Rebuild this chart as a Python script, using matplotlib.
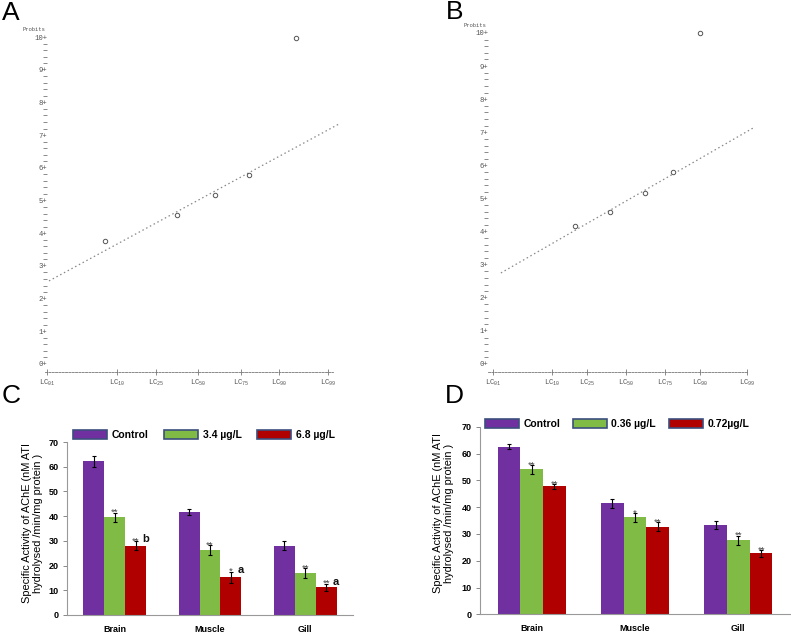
import numpy as np
import matplotlib
matplotlib.use('Agg')
import matplotlib.pyplot as plt
from matplotlib.patches import Patch

# ---------------- data ----------------
# Panels A / B : probit plots. x = relative log-dose position (0 = LC01, 100 = LC99)
lc_labels = ['01', '10', '25', '50', '75', '90', '99']
probit_ticks = list(range(0, 11))

a_lc_pos = [0, 24.9, 38.8, 53.7, 69.0, 82.6, 100]
a_fit_x = [0.7, 103.9]
a_fit_probit = [2.54, 7.34]
a_obs_x = [20.6, 46.3, 59.8, 71.9, 88.6]
a_obs_probit = [3.76, 4.56, 5.17, 5.78, 9.97]

b_lc_pos = [0, 23.2, 37.0, 52.4, 67.7, 81.5, 100]
b_fit_x = [3.1, 103.1]
b_fit_probit = [2.75, 7.16]
b_obs_x = [32.3, 46.1, 59.8, 70.9, 81.5]
b_obs_probit = [4.17, 4.59, 5.17, 5.80, 10.0]

# Panels C / D : AChE specific activity
tissues = ['Brain', 'Muscle', 'Gill']

c_legend = ['Control', '3.4 µg/L', '6.8 µg/L']
c_control = [62.2, 41.8, 28.1]
c_low = [39.6, 26.2, 16.9]
c_high = [28.0, 15.3, 11.2]
c_control_err = [2.3, 1.2, 1.8]
c_low_err = [1.8, 2.1, 2.0]
c_high_err = [1.9, 2.3, 1.5]
c_low_stars = ['**', '**', '**']
c_high_stars = ['**', '*', '**']
c_high_letters = ['b', 'a', 'a']

d_legend = ['Control', '0.36 µg/L', '0.72µg/L']
d_control = [62.5, 41.4, 33.4]
d_low = [54.1, 36.2, 27.6]
d_high = [47.7, 32.6, 22.7]
d_control_err = [0.9, 1.6, 1.4]
d_low_err = [1.6, 1.7, 1.8]
d_high_err = [0.9, 1.7, 1.2]
d_low_stars = ['**', '*', '**']
d_high_stars = ['**', '**', '**']
d_high_letters = ['', '', '']

ylabel_text = 'Specific Activity of AChE (nM ATI\nhydrolysed /min/mg protein )'

# ---------------- figure ----------------
W, H = 791, 633
fig = plt.figure(figsize=(W / 100, H / 100), dpi=100)
plt.rcParams['font.family'] = ['Liberation Sans', 'DejaVu Sans']


def px_axes(l, t, r, b):
    return fig.add_axes([l / W, 1 - b / H, (r - l) / W, (b - t) / H])


MONO = 'Liberation Mono'
GREY = '#555555'


def probit_panel(box, xlim, yaxis_x, spine_bounds, lc_pos, fit_x, fit_y, obs_x, obs_y,
                 probit_label_y):
    ax = px_axes(*box)
    ax.set_xlim(*xlim)
    ax.set_ylim(-0.5, 10.5)
    ax.patch.set_alpha(0)
    for s in ['top', 'right']:
        ax.spines[s].set_visible(False)
    ax.spines['left'].set_position(('data', yaxis_x))
    ax.spines['left'].set_linewidth(0)
    ax.set_yticks(probit_ticks)
    ax.set_yticklabels([f'{v}+' for v in probit_ticks], fontfamily=MONO,
                       fontsize=5.2, color=GREY)
    ax.set_yticks(np.arange(0, 10.01, 0.2), minor=True)
    ax.tick_params(axis='y', which='major', length=0, pad=-1.5)
    ax.tick_params(axis='y', which='minor', length=3, width=0.6, color='#777777',
                   direction='inout')
    ax.spines['bottom'].set_position(('data', -0.245))
    ax.spines['bottom'].set_linestyle((0, (2.5, 1.5)))
    ax.spines['bottom'].set_linewidth(0.6)
    ax.spines['bottom'].set_color('#777777')
    ax.spines['bottom'].set_bounds(*spine_bounds)
    ax.set_xticks(lc_pos)
    ax.set_xticklabels([f'LC$_{{\\mathregular{{{s}}}}}$' for s in lc_labels],
                       fontfamily=MONO, fontsize=5.2, color=GREY)
    ax.tick_params(axis='x', length=4, width=0.6, color='#777777', direction='inout', pad=2)
    ax.plot(fit_x, fit_y, color='#888888', lw=0.9, linestyle=(0, (1.2, 2.2)))
    ax.plot(obs_x, obs_y, linestyle='none', marker='o', ms=3.2, mfc='white',
            mec='#555555', mew=0.7)
    ax.text(yaxis_x, probit_label_y, 'Probits', ha='right', va='center', fontfamily=MONO,
            fontsize=4.0, color=GREY)
    return ax


probit_panel((35, 20.65, 350, 380.35), (-4.27, 107.83), -0.71, (-0.71, 101.8),
             a_lc_pos, a_fit_x, a_fit_probit, a_obs_x, a_obs_probit, 10.24)
probit_panel((478, 16.45, 770, 380.55), (-5.91, 109.06), -2.76, (-1.97, 100.4),
             b_lc_pos, b_fit_x, b_fit_probit, b_obs_x, b_obs_probit, 10.24)

COLORS = ['#7030a0', '#7fbb45', '#b00000']
EDGE = '#3c4f7e'


def bar_panel(box, legend_names, series, errs, low_stars, high_stars, high_letters,
              legend_xy, colspacing, ylab_xy):
    ax = px_axes(*box)
    x = np.arange(len(tissues))
    w = 0.22
    for i, (vals, err) in enumerate(zip(series, errs)):
        ax.bar(x + (i - 1) * w, vals, w, color=COLORS[i], yerr=err,
               error_kw=dict(ecolor='black', elinewidth=0.8, capsize=1.6, capthick=0.8))
    for k in range(len(tissues)):
        for i, stars in [(1, low_stars[k]), (2, high_stars[k])]:
            top = series[i][k] + errs[i][k]
            ax.text(x[k] + (i - 1) * w, top - 1.0, stars, ha='center', va='baseline',
                    fontsize=6.8, color='#444444')
        if high_letters[k]:
            top = series[2][k] + errs[2][k]
            ax.text(x[k] + w + 0.068, top - 0.5, high_letters[k], ha='left',
                    va='baseline', fontsize=8, fontweight='bold', color='#111111')
    ax.set_xlim(-0.5, 2.5)
    ax.set_ylim(0, 70)
    ax.set_yticks(range(0, 71, 10))
    ax.set_xticks(x)
    ax.set_xticklabels(tissues, fontsize=6.5, fontweight='bold')
    for lab in ax.get_yticklabels():
        lab.set_fontweight('bold')
        lab.set_fontsize(6.5)
    ax.tick_params(axis='x', length=0, pad=7)
    ax.tick_params(axis='y', length=3, width=0.7, color='#888888', pad=3)
    for s in ['top', 'right']:
        ax.spines[s].set_visible(False)
    for s in ['left', 'bottom']:
        ax.spines[s].set_color('#999999')
        ax.spines[s].set_linewidth(0.8)
    handles = [Patch(facecolor=c, edgecolor=EDGE, linewidth=1.2) for c in COLORS]
    ax.legend(handles, legend_names, ncol=3, loc='center left',
              bbox_to_anchor=(legend_xy[0] / W, 1 - legend_xy[1] / H),
              bbox_transform=fig.transFigure, frameon=False, borderpad=0,
              borderaxespad=0, handlelength=3.3, handleheight=0.95,
              handletextpad=0.4, columnspacing=colspacing,
              prop=dict(size=7.5, weight='bold'))
    fig.text(ylab_xy[0] / W, 1 - ylab_xy[1] / H, ylabel_text, rotation=90,
             ha='center', va='center', fontsize=7.9, linespacing=1.05,
             multialignment='center')
    return ax


bar_panel((67, 442, 353, 615), c_legend, [c_control, c_low, c_high],
          [c_control_err, c_low_err, c_high_err], c_low_stars, c_high_stars,
          c_high_letters, (73, 435), 1.5, (32.5, 523))
bar_panel((480, 426.7, 790, 614.3), d_legend, [d_control, d_low, d_high],
          [d_control_err, d_low_err, d_high_err], d_low_stars, d_high_stars,
          d_high_letters, (485, 424), 1.2, (443.5, 513))

for lab, (px, py) in zip(['A', 'B', 'C', 'D'], [(2, 1), (446, 0), (2, 384), (445, 384)]):
    fig.text(px / W, 1 - py / H, lab, fontsize=19, ha='left', va='top')

fig.savefig('out.png', dpi=100)
